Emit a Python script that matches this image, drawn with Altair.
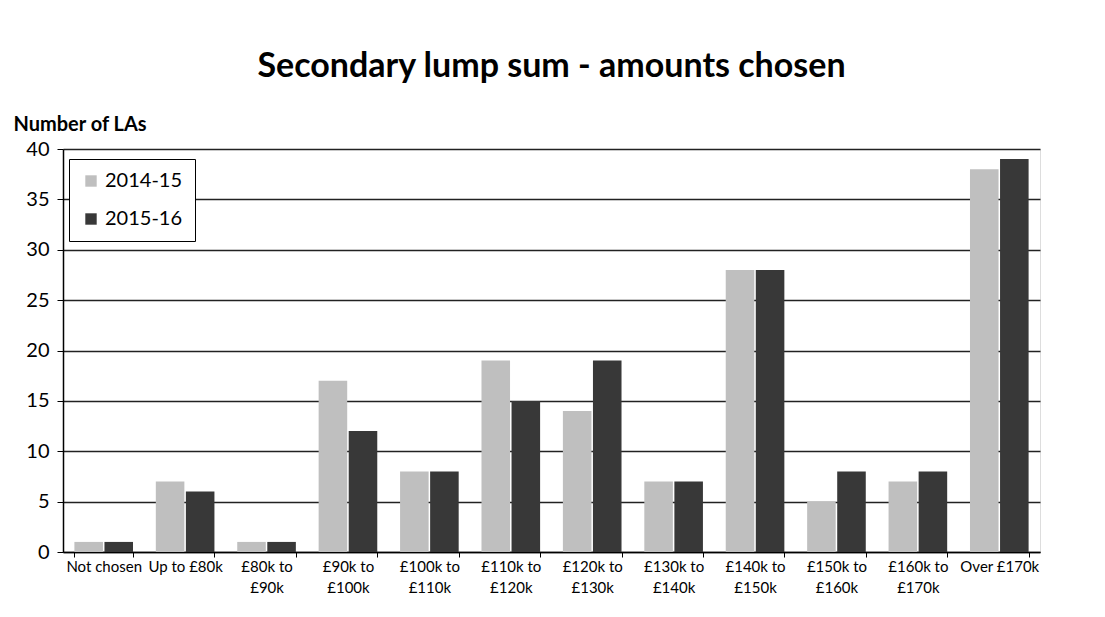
import altair as alt
import pandas as pd

categories = ["Not chosen", "Up to £80k", "£80k to|£90k", "£90k to|£100k", "£100k to|£110k",
              "£110k to|£120k", "£120k to|£130k", "£130k to|£140k", "£140k to|£150k",
              "£150k to|£160k", "£160k to|£170k", "Over £170k"]
series = ["2014-15", "2015-16"]
v_2014_15 = [1, 7, 1, 17, 8, 19, 14, 7, 28, 5, 7, 38]
v_2015_16 = [1, 6, 1, 12, 8, 15, 19, 7, 28, 8, 8, 39]
y_ticks = [0, 5, 10, 15, 20, 25, 30, 35, 40]

rows = []
for c, a, b in zip(categories, v_2014_15, v_2015_16):
    rows.append({"cat": c, "year": series[0], "n": a})
    rows.append({"cat": c, "year": series[1], "n": b})
df = pd.DataFrame(rows)

FONT = "Lato"

chart = alt.Chart(df).mark_bar().encode(
    x=alt.X("cat:N", sort=categories, title=None,
            scale=alt.Scale(paddingInner=0.28, paddingOuter=0.14),
            axis=alt.Axis(labelAngle=0, labelExpr="split(datum.label, '|')",
                          labelFontSize=15, labelFont=FONT, labelColor="black",
                          tickBand="extent", tickColor="black", tickSize=5,
                          domainColor="black", domainWidth=1.5,
                          labelPadding=2, labelLineHeight=21)),
    xOffset=alt.XOffset("year:N", sort=series, scale=alt.Scale(paddingInner=0.05)),
    y=alt.Y("n:Q", scale=alt.Scale(domain=[0, 40]),
            axis=alt.Axis(values=y_ticks, title="Number of LAs", titleAngle=0,
                          titleAlign="left", titleBaseline="middle", titleX=-50, titleY=-25,
                          titleFontSize=20, titleFont=FONT, titleFontWeight="bold", titleColor="black",
                          labelFontSize=20, labelFont=FONT, labelColor="black", labelPadding=8,
                          tickColor="black", tickSize=6, domainColor="black", domainWidth=1.5,
                          gridColor="#222222", gridWidth=1.5)),
    color=alt.Color("year:N", sort=series,
                    scale=alt.Scale(domain=series, range=["#bfbfbf", "#383838"]),
                    legend=alt.Legend(title=None, orient="none", legendX=6, legendY=10,
                                      strokeColor="black", fillColor="white",
                                      padding=12, symbolType="square", symbolSize=130,
                                      symbolStrokeWidth=0,
                                      labelFontSize=20, labelFont=FONT, labelColor="black",
                                      rowPadding=18))
).properties(
    width=977, height=403,
    padding={"left": 5, "top": 42, "right": 5, "bottom": 5},
    title=alt.TitleParams("Secondary lump sum - amounts chosen", fontSize=34, font=FONT,
                          fontWeight="bold", color="black", anchor="middle", offset=30)
).configure_view(stroke="black", strokeWidth=1.5).configure_legend(strokeWidth=1.5).configure(background="white")

chart.save("out.html", embed_options={"renderer": "svg", "actions": False})
